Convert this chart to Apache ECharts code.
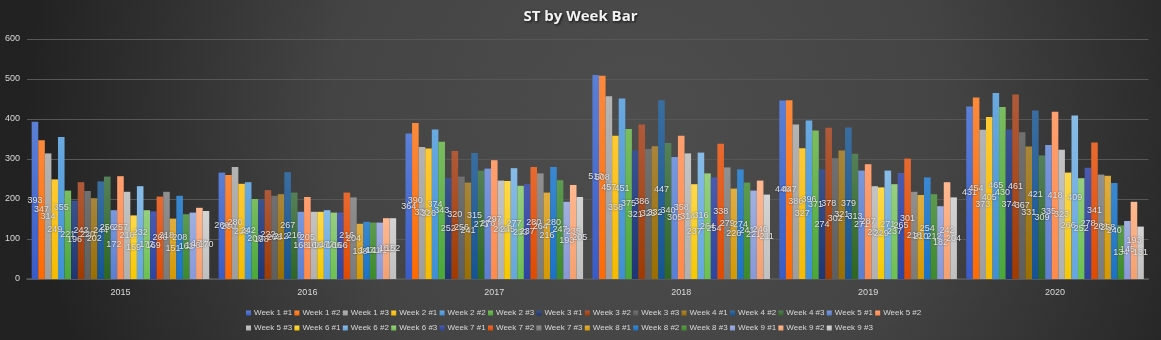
<!DOCTYPE html>
<html>
<head>
<meta charset="utf-8">
<script src="https://cdn.jsdelivr.net/npm/echarts@6/dist/echarts.min.js"></script>
<style>
html,body{margin:0;padding:0;background:#2a2a2a;}
#chart{width:1161px;height:340px;}
</style>
</head>
<body>
<div id="chart"></div>
<script>
const categories = ['2015','2016','2017','2018','2019','2020'];
const seriesNames = ['Week 1 #1','Week 1 #2','Week 1 #3','Week 2 #1','Week 2 #2','Week 2 #3','Week 3 #1','Week 3 #2','Week 3 #3','Week 4 #1','Week 4 #2','Week 4 #3','Week 5 #1','Week 5 #2','Week 5 #3','Week 6 #1','Week 6 #2','Week 6 #3','Week 7 #1','Week 7 #2','Week 7 #3','Week 8 #1','Week 8 #2','Week 8 #3','Week 9 #1','Week 9 #2','Week 9 #3'];
const yTicks = [0,100,200,300,400,500,600];

// values per year, in series order
const v2015 = [393,347,314,249,355,221,196,242,220,202,244,256,172,257,218,159,232,172,169,206,218,151,208,162,166,178,170];
const v2016 = [266,260,280,238,242,200,198,222,208,212,267,216,168,205,168,168,172,166,166,216,204,138,143,141,141,152,152];
const v2017 = [364,390,330,326,374,343,252,320,256,241,315,271,276,297,246,245,277,233,237,280,264,216,280,247,193,235,205];
const v2018 = [510,508,457,358,451,375,321,386,325,332,447,340,305,358,314,237,316,264,254,338,279,226,274,241,221,246,211];
const v2019 = [446,447,386,327,396,371,274,378,302,321,379,313,271,287,232,229,271,237,265,301,218,210,254,212,182,242,204];
const v2020 = [431,454,373,405,465,430,374,461,367,331,421,309,335,418,323,266,409,252,278,341,261,258,240,134,145,193,131];
const yearValues = [v2015,v2016,v2017,v2018,v2019,v2020];

const barColors = [
 ['#5b80d6','#3a5bc7'],['#fb8a3c','#ff6a00'],['#b4b4b4','#9d9d9d'],['#ffc933','#f5bb00'],['#6aaae0','#3d8fd6'],['#7bbd60','#4aa838'],
 ['#3a5390','#1f3574'],['#b05a3a','#a03a00'],['#707070','#5e5e5e'],['#a8853a','#9a6e00'],['#3a6ea0','#145494'],['#558058','#2e6622'],
 ['#7a98dc','#5a7ed2'],['#ffa070','#ff8a4a'],['#c4c4c4','#b0b0b0'],['#ffd84a','#f5c800'],['#88bce8','#64a6de'],['#98cf80','#6cc050'],
 ['#4a5ab0','#2e44a0'],['#e86a30','#e04a00'],['#909090','#7a7a7a'],['#e0ad40','#d49800'],['#3a88d0','#1a72c8'],['#5e9a50','#3c8a2a'],
 ['#a0b0e0','#8898d8'],['#ffb890','#f4a070'],['#d4d4d4','#c0c0c0']
];

const series = seriesNames.map((name, i) => ({
  name: name,
  type: 'bar',
  barGap: '0%',
  barCategoryGap: '5%',
  data: yearValues.map(arr => arr[i]),
  itemStyle: {
    color: new echarts.graphic.LinearGradient(0,0,0,1,[
      {offset:0,color:barColors[i][0]},{offset:1,color:barColors[i][1]}
    ])
  },
  label: {
    show: true,
    position: 'inside',
    fontSize: 9,
    fontFamily: 'Liberation Sans',
    color: '#e4e4e4',
    textShadowColor: 'rgba(0,0,0,0.6)',
    textShadowBlur: 2
  }
}));

const chart = echarts.init(document.getElementById('chart'), null, {renderer:'canvas'});
chart.setOption({
  animation: false,
  backgroundColor: {
    type: 'radial', x: 0.55, y: 0.35, r: 1.8,
    colorStops: [{offset:0,color:'#4d4d4d'},{offset:0.5,color:'#444444'},{offset:1,color:'#222222'}]
  },
  title: {
    text: 'ST by Week Bar',
    left: 'center',
    top: 4,
    textStyle: {
      color: '#f2f2f2', fontSize: 15, fontWeight: 'bold', fontFamily: 'Open Sans',
      textShadowColor: 'rgba(0,0,0,0.8)', textShadowBlur: 3, textShadowOffsetX: 1, textShadowOffsetY: 1
    }
  },
  grid: { left: 27, right: 12.5, top: 39, bottom: 61 },
  xAxis: {
    type: 'category',
    data: categories,
    axisLine: { lineStyle: { color: '#5a5a5a', width: 1.5 } },
    axisTick: { show: false },
    axisLabel: { color: '#d9d9d9', fontSize: 9, fontFamily: 'Liberation Sans', margin: 9 }
  },
  yAxis: {
    type: 'value',
    min: yTicks[0], max: yTicks[yTicks.length-1], interval: 100,
    axisLine: { show: false },
    axisTick: { show: false },
    axisLabel: { color: '#d9d9d9', fontSize: 9, fontFamily: 'Liberation Sans', margin: 7 },
    splitLine: { lineStyle: { color: '#575757', width: 1 } }
  },
  legend: [
    {
      data: seriesNames.slice(0,14),
      left: 241, top: 304,
      itemWidth: 5, itemHeight: 5, itemGap: 2.3, icon: 'rect',
      textStyle: { color: '#d9d9d9', fontSize: 8, fontFamily: 'Liberation Sans', padding: [0,0,0,-2] }
    },
    {
      data: seriesNames.slice(14),
      left: 241, top: 319,
      itemWidth: 5, itemHeight: 5, itemGap: 2.3, icon: 'rect',
      textStyle: { color: '#d9d9d9', fontSize: 8, fontFamily: 'Liberation Sans', padding: [0,0,0,-2] }
    }
  ],
  series: series
});
</script>
</body>
</html>
